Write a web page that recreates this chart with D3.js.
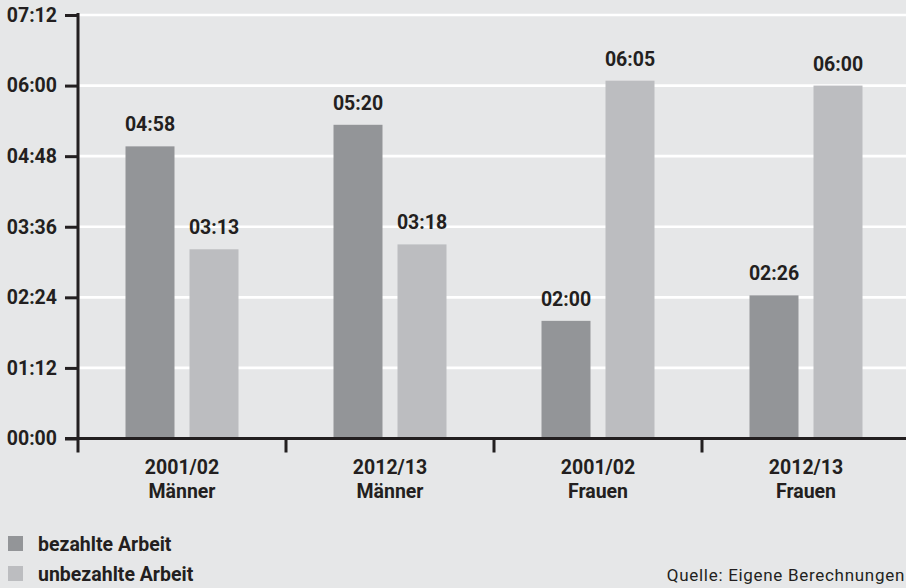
<!DOCTYPE html>
<html><head><meta charset="utf-8">
<script src="https://cdn.jsdelivr.net/npm/d3@7"></script>
<style>
html,body{margin:0;padding:0;background:#e6e7e8;}
svg{display:block;}
</style></head>
<body>
<svg id="chart" width="906" height="588"></svg>
<script>
const categories = [["2001/02","Männer"],["2012/13","Männer"],["2001/02","Frauen"],["2012/13","Frauen"]];
const seriesNames = ["bezahlte Arbeit","unbezahlte Arbeit"];
const paidMinutes = [298, 320, 120, 146];
const unpaidMinutes = [193, 198, 365, 360];
const tickMinutes = [0, 72, 144, 216, 288, 360, 432];
const colors = ["#939598","#bcbdc0"];
const textColor = "#231f20";
const fmt = m => String(Math.floor(m/60)).padStart(2,"0")+":"+String(m%60).padStart(2,"0");

(function(){
const svg = d3.select("#chart");
const font = "Roboto, 'Open Sans', sans-serif";
const fs = "19.5px";
const mLeft = 78, mTop = 15, mBottom = 438.5;

const x = d3.scaleBand().domain(d3.range(categories.length)).range([mLeft, mLeft + 208*4]);
const y = d3.scaleLinear().domain([0, 432]).range([mBottom, mTop]);

// gridlines
svg.append("g").selectAll("line").data(tickMinutes.filter(d=>d>0)).join("line")
  .attr("x1", mLeft).attr("x2", 906).attr("y1", d=>y(d)).attr("y2", d=>y(d))
  .attr("stroke","#fff").attr("stroke-width",2.6);

// bars
const series = [paidMinutes, unpaidMinutes];
const barW = 49, gap = 15;
series.forEach((vals, si) => {
  const g = svg.append("g");
  const offset = si === 0 ? -(gap/2 + barW) : gap/2;
  g.selectAll("rect").data(vals).join("rect")
    .attr("x", (d,i)=> x(i) + x.bandwidth()/2 + offset)
    .attr("width", barW)
    .attr("y", d=>y(d)).attr("height", d=>mBottom - y(d))
    .attr("fill", colors[si]);
  g.selectAll("text").data(vals).join("text")
    .attr("x", (d,i)=> x(i) + x.bandwidth()/2 + offset + barW/2)
    .attr("y", d=>y(d) - 15)
    .attr("text-anchor","middle")
    .attr("font-family", font).attr("font-weight","bold").attr("font-size",fs)
    .attr("fill", textColor)
    .text(fmt);
});

// y axis
const yAxis = d3.axisLeft(y).tickValues(tickMinutes).tickFormat(fmt).tickSize(13).tickPadding(8);
const ya = svg.append("g").attr("transform",`translate(${mLeft},0)`).call(yAxis);
ya.select(".domain").attr("stroke", textColor).attr("stroke-width",3).attr("d",`M0,${mTop-2}V${mBottom}`);
ya.selectAll(".tick line").attr("stroke", textColor).attr("stroke-width",3);
ya.selectAll(".tick text").attr("font-family", font).attr("font-weight","bold").attr("font-size",fs).attr("fill", textColor);

// x axis
const xAxisLine = svg.append("g");
xAxisLine.append("line").attr("x1", mLeft-13).attr("x2", 906).attr("y1", mBottom).attr("y2", mBottom)
  .attr("stroke", textColor).attr("stroke-width",3);
const bounds = d3.range(categories.length).map(i=>x(i)).concat([x(categories.length-1)+x.bandwidth()]);
xAxisLine.selectAll("line.t").data(bounds).join("line").attr("class","t")
  .attr("x1", d=>d).attr("x2", d=>d).attr("y1", mBottom).attr("y2", mBottom+14)
  .attr("stroke", textColor).attr("stroke-width",3);
const xl = svg.append("g").selectAll("text").data(categories).join("text")
  .attr("text-anchor","middle")
  .attr("font-family", font).attr("font-weight","bold").attr("font-size",fs)
  .attr("fill", textColor);
xl.append("tspan").attr("x",(d,i)=> x(i)+x.bandwidth()/2).attr("y",474).text(d=>d[0]);
xl.append("tspan").attr("x",(d,i)=> x(i)+x.bandwidth()/2).attr("y",498).text(d=>d[1]);

// legend
const lg = svg.append("g").selectAll("g").data(seriesNames).join("g")
  .attr("transform",(d,i)=>`translate(8,${536 + i*30})`);
lg.append("rect").attr("width",15).attr("height",15).attr("fill",(d,i)=>colors[i]);
lg.append("text").attr("x",30).attr("y",15)
  .attr("font-family", font).attr("font-weight","bold").attr("font-size",fs)
  .attr("fill", textColor).text(d=>d);

// source
svg.append("text").attr("x",905).attr("y",581).attr("text-anchor","end")
  .attr("font-family", font).attr("font-size","17px").attr("letter-spacing","0.7px")
  .attr("fill", textColor).text("Quelle: Eigene Berechnungen");
})();
</script>
</body></html>
